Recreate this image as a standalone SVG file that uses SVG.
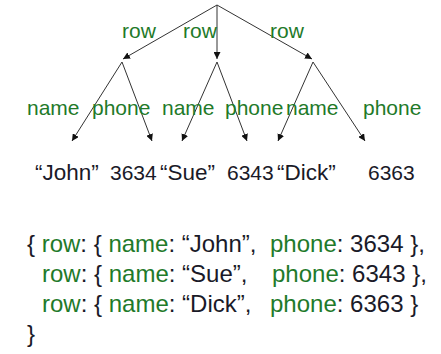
<svg xmlns="http://www.w3.org/2000/svg" width="441" height="354" viewBox="0 0 441 354">
<style>
text{font-family:"Liberation Sans",Arial,sans-serif;font-size:21px;fill:#1a1a28}
.q{font-size:22.5px}
.j{font-size:24px}
.g{fill:#1f7a2a}
.e{stroke:#333;stroke-width:1;fill:none;marker-end:url(#ah)}
</style>
<defs>
<marker id="ah" viewBox="0 0 10 10" refX="10" refY="5" markerWidth="7" markerHeight="7" orient="auto" markerUnits="userSpaceOnUse">
<path d="M0,0 L10,5 L0,10 z" fill="#111"/>
</marker>
</defs>
<rect width="441" height="354" fill="#fff"/>
<g id="connectors">
<line class="e" x1="217" y1="5" x2="123" y2="59"/>
<line class="e" x1="217" y1="5" x2="217" y2="59"/>
<line class="e" x1="217" y1="5" x2="312" y2="59"/>
<line class="e" x1="122" y1="62" x2="72" y2="141"/>
<line class="e" x1="122" y1="62" x2="152" y2="141"/>
<line class="e" x1="217" y1="62" x2="182" y2="141"/>
<line class="e" x1="217" y1="62" x2="247" y2="141"/>
<line class="e" x1="313" y1="62" x2="278" y2="141"/>
<line class="e" x1="313" y1="62" x2="365" y2="141"/>
</g>
<g id="labels">
<text class="g" x="122" y="38">row</text>
<text class="g" x="183" y="38">row</text>
<text class="g" x="270" y="38">row</text>
<text class="g" x="27" y="115">name</text>
<text class="g" x="92" y="115">phone</text>
<text class="g" x="162" y="115">name</text>
<text class="g" x="225" y="115">phone</text>
<text class="g" x="286" y="115">name</text>
<text class="g" x="363" y="115">phone</text>
</g>
<g id="leaf-john"><text class="q" x="35" y="180">“John”</text></g>
<g id="leaf-3634"><text x="110" y="180">3634</text></g>
<g id="leaf-sue"><text class="q" x="160" y="180">“Sue”</text></g>
<g id="leaf-6343"><text x="227" y="180">6343</text></g>
<g id="leaf-dick"><text class="q" x="277" y="180">“Dick”</text></g>
<g id="leaf-6363"><text x="368" y="180">6363</text></g>
<g id="json">
<text class="j" x="27" y="252" xml:space="preserve">{ <tspan class="g">row</tspan>: { <tspan class="g">name</tspan>: “John”, <tspan class="g" x="270">phone</tspan>: 3634 },</text>
<text class="j" x="42" y="282" xml:space="preserve"><tspan class="g">row</tspan>: { <tspan class="g">name</tspan>: “Sue”, <tspan class="g" x="272">phone</tspan>: 6343 },</text>
<text class="j" x="42" y="312" xml:space="preserve"><tspan class="g">row</tspan>: { <tspan class="g">name</tspan>: “Dick”, <tspan class="g" x="270">phone</tspan>: 6363 }</text>
<text class="j" x="27" y="342">}</text>
</g>
</svg>
